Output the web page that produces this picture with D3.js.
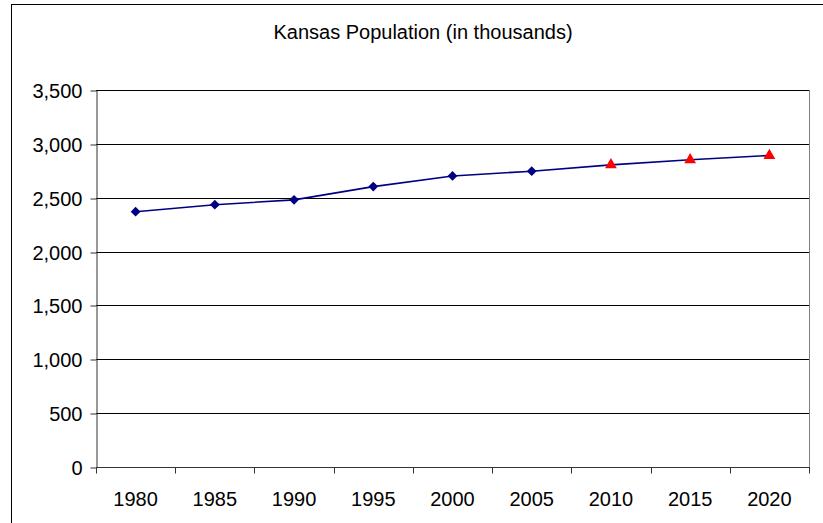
<!DOCTYPE html>
<html>
<head>
<meta charset="utf-8">
<script src="https://cdn.jsdelivr.net/npm/d3@7"></script>
<style>
    body { margin: 0; background: #fff; }
    text { font-family: "Liberation Sans", Arial, sans-serif; fill: #000; }
</style>
</head>
<body>
<div id="draw"></div>
<script>
// data
const years = ['1980', '1985', '1990', '1995', '2000', '2005', '2010', '2015', '2020'];
const population = [2370, 2435, 2480, 2603, 2702, 2746, 2805, 2852, 2892];
const kind = ['actual', 'actual', 'actual', 'actual', 'actual', 'actual', 'projected', 'projected', 'projected'];
const yTicks = [0, 500, 1000, 1500, 2000, 2500, 3000, 3500];
const title = 'Kansas Population (in thousands)';

let rows = years.map((y, i) => ({ year: y, value: population[i], kind: kind[i] }));

// parameters
let width = 823, height = 523;
let plot = { left: 96, right: 809, top: 90, bottom: 467 };

let svg = d3.select('#draw').append('svg').attr('width', width).attr('height', height);

// outer frame
svg.append('rect')
    .attr('x', 11.5).attr('y', 4.5)
    .attr('width', 840).attr('height', 540)
    .style('fill', 'none').style('stroke', '#000').style('stroke-width', 1);

let x = d3.scaleBand().domain(years).range([plot.left, plot.right]).padding(0);
let y = d3.scaleLinear().domain([0, 3500]).range([plot.bottom, plot.top]);

// gridlines
svg.append('g')
    .selectAll('line')
    .data(yTicks.filter(d => d > 0))
    .enter()
    .append('line')
    .attr('x1', plot.left).attr('x2', plot.right)
    .attr('y1', d => Math.round(y(d)) + 0.5).attr('y2', d => Math.round(y(d)) + 0.5)
    .style('stroke', '#000').style('stroke-width', 1);

// right border of plot area
svg.append('line')
    .attr('x1', plot.right + 0.5).attr('x2', plot.right + 0.5)
    .attr('y1', plot.top).attr('y2', plot.bottom)
    .style('stroke', '#808080');

// y axis
let yAxis = svg.append('g')
    .attr('transform', 'translate(' + (plot.left + 0.5) + ',0.5)')
    .call(d3.axisLeft(y).tickValues(yTicks).tickFormat(d3.format(',')).tickSizeInner(6).tickSizeOuter(0).tickPadding(8));
yAxis.select('.domain').style('stroke', '#333');
yAxis.selectAll('.tick line').style('stroke', '#333')
    .attr('transform', d => 'translate(0,' + (Math.round(y(d)) - y(d)) + ')');
yAxis.selectAll('.tick text').style('font-size', '20px').attr('dy', '0.35em');

// x axis (ticks between categories)
let xg = svg.append('g').attr('transform', 'translate(0,' + (plot.bottom + 0.5) + ')');
xg.append('line')
    .attr('x1', plot.left).attr('x2', plot.right + 1)
    .style('stroke', '#333');
xg.selectAll('.xtick')
    .data(years.map(d => x(d)).concat([plot.right]))
    .enter()
    .append('line')
    .attr('x1', d => Math.round(d) + 0.5).attr('x2', d => Math.round(d) + 0.5)
    .attr('y1', 0).attr('y2', 6)
    .style('stroke', '#333');
xg.selectAll('text')
    .data(years)
    .enter()
    .append('text')
    .attr('x', d => x(d) + x.bandwidth() / 2)
    .attr('y', 38)
    .attr('text-anchor', 'middle')
    .style('font-size', '20px')
    .text(d => d);

// line
let cx = d => x(d.year) + x.bandwidth() / 2;
svg.append('path')
    .datum(rows)
    .attr('d', d3.line().x(cx).y(d => y(d.value)))
    .style('fill', 'none').style('stroke', '#000080').style('stroke-width', 1.6);

// markers
svg.append('g')
    .selectAll('path')
    .data(rows)
    .enter()
    .append('path')
    .attr('transform', d => 'translate(' + cx(d) + ',' + y(d.value) + ')' + (d.kind == 'actual' ? ' rotate(45)' : ''))
    .attr('d', d => d.kind == 'actual'
        ? d3.symbol().type(d3.symbolSquare).size(48)()
        : d3.symbol().type(d3.symbolTriangle).size(60)())
    .style('fill', d => d.kind == 'actual' ? '#000080' : '#ff0000');

// title
svg.append('text')
    .attr('x', 423)
    .attr('y', 39)
    .attr('text-anchor', 'middle')
    .style('font-size', '20px')
    .text(title);
</script>
</body>
</html>
